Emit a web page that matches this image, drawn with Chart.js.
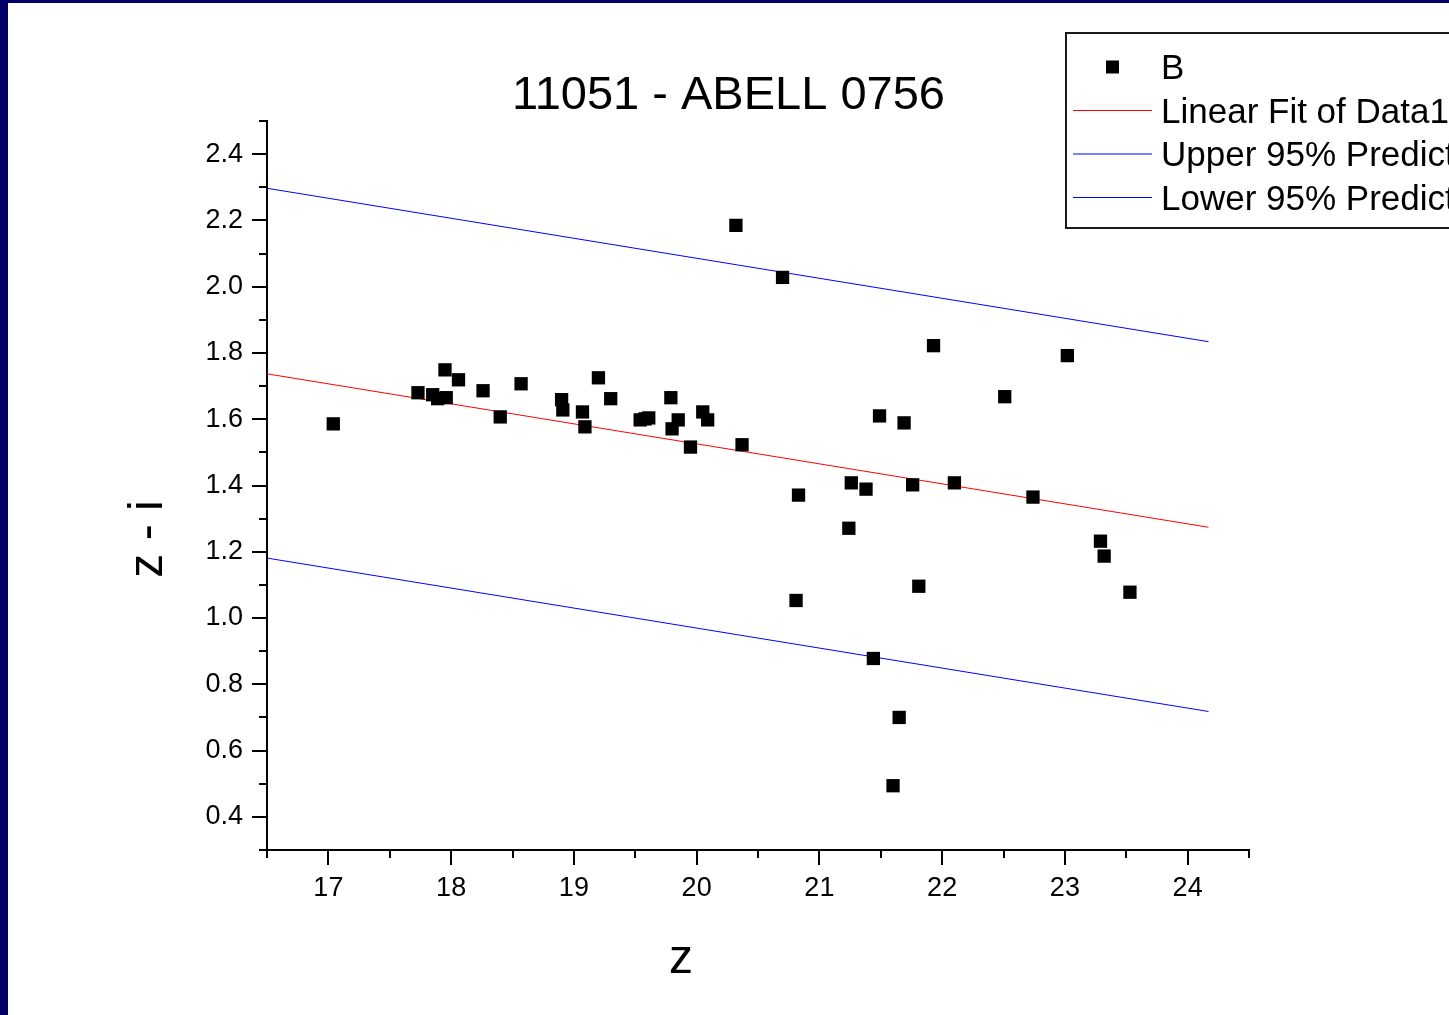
<!DOCTYPE html>
<html>
<head>
<meta charset="utf-8">
<script src="https://cdn.jsdelivr.net/npm/chart.js@4/dist/chart.umd.min.js"></script>
<style>
  body { margin: 0; background: #000068; width: 1449px; height: 1015px; overflow: hidden; }
  #wrap { position: absolute; left: 8px; top: 3px; width: 1441px; height: 1012px; background: #ffffff; }
</style>
</head>
<body>
<div id="wrap"><canvas id="myChart" width="1441" height="1012"></canvas></div>
<script>
/* Data */
    // z magnitude and z - i colour of each galaxy
    const sampleZ = [17.04, 17.73, 17.85, 17.89, 17.95, 17.96, 18.06, 18.26, 18.40, 18.57,
                     18.90, 18.91, 19.07, 19.09, 19.20, 19.30, 19.54, 19.58, 19.61, 19.79,
                     19.80, 19.85, 19.95, 20.05, 20.09, 20.32, 20.37, 20.70, 20.81, 20.83,
                     21.24, 21.26, 21.38, 21.44, 21.49, 21.60, 21.65, 21.69, 21.76, 21.81,
                     21.93, 22.10, 22.51, 22.74, 23.02, 23.29, 23.32, 23.53]
    const sampleZI = [1.586, 1.680, 1.674, 1.662, 1.749, 1.665, 1.719, 1.686, 1.607, 1.707,
                      1.659, 1.628, 1.622, 1.577, 1.725, 1.662, 1.598, 1.601, 1.604, 1.665,
                      1.571, 1.598, 1.516, 1.622, 1.598, 2.185, 1.523, 2.028, 1.053, 1.371,
                      1.271, 1.408, 1.389, 0.878, 1.610, 0.494, 0.700, 1.589, 1.402, 1.096,
                      1.822, 1.408, 1.668, 1.365, 1.792, 1.232, 1.187, 1.078]

    // fit line and 95% prediction band, start and end
    const fitZ = [16.5, 24.17]
    const fitLine = [1.737, 1.274]
    const upperBand = [2.297, 1.834]
    const lowerBand = [1.181, 0.718]

    const seriesNames = ['B', 'Linear Fit of Data1', 'Upper 95% Prediction Limit', 'Lower 95% Prediction Limit']
    const titleText = '11051 - ABELL 0756'
    const xTitle = 'z'
    const yTitle = 'z - i'

const FONT = '"Liberation Sans", Arial, sans-serif'

function toPoints(xs, ys) {
    let pts = []
    for (let i = 0; i < xs.length; i++) {
        pts.push({ x: xs[i], y: ys[i] })
    }
    return pts
}

// Title, axis titles, major/minor tick marks and the boxed legend
const originPlugin = {
    id: 'originLook',
    afterDraw(chart) {
        const ctx = chart.ctx
        const area = chart.chartArea
        const xs = chart.scales.x
        const ys = chart.scales.y

        ctx.save()
        ctx.strokeStyle = '#000000'
        ctx.lineWidth = 2
        ctx.beginPath()
        xs.ticks.forEach(t => {
            let px = Math.round(xs.getPixelForValue(t.value))
            let major = Math.abs(t.value - Math.round(t.value)) < 1e-6
            ctx.moveTo(px, area.bottom)
            ctx.lineTo(px, area.bottom + (major ? 15 : 8))
        })
        ys.ticks.forEach(t => {
            let py = Math.round(ys.getPixelForValue(t.value))
            let major = Math.round(t.value * 10) % 2 === 0
            ctx.moveTo(area.left, py)
            ctx.lineTo(area.left - (major ? 15 : 8), py)
        })
        ctx.stroke()

        // Title
        ctx.fillStyle = '#000000'
        ctx.font = '47px ' + FONT
        ctx.textAlign = 'center'
        ctx.textBaseline = 'alphabetic'
        ctx.fillText(titleText, chart.width / 2, 106)

        // Axis titles
        ctx.font = '48px ' + FONT
        ctx.fillText(xTitle, 673, 970)
        ctx.save()
        ctx.translate(154, 536)
        ctx.rotate(-Math.PI / 2)
        ctx.fillText(yTitle, 0, 0)
        ctx.restore()

        // Legend
        const bx = 1058, by = 30, bh = 195
        ctx.lineWidth = 2
        ctx.strokeStyle = '#1a1a1a'
        ctx.strokeRect(bx, by, 600, bh)
        ctx.font = '35px ' + FONT
        ctx.textAlign = 'left'
        chart.data.datasets.forEach((ds, i) => {
            let cy = 64 + i * 43.5
            if (i === 0) {
                ctx.fillStyle = '#000000'
                ctx.fillRect(1098, cy - 6.5, 13, 13)
            } else {
                ctx.strokeStyle = ds.borderColor
                ctx.lineWidth = 1
                ctx.beginPath()
                ctx.moveTo(1065, cy)
                ctx.lineTo(1144, cy)
                ctx.stroke()
            }
            ctx.fillStyle = '#000000'
            ctx.fillText(ds.label, 1153, cy + 12)
        })
        ctx.restore()
    }
}

function createChart() {
    const ctx = document.getElementById('myChart').getContext('2d')
    const lineStyle = (color) => ({
        type: 'line',
        borderColor: color,
        borderWidth: 1,
        pointRadius: 0,
        fill: false,
        tension: 0
    })

    const myChart = new Chart(ctx, {
        type: 'scatter',
        data: {
            datasets: [
                {
                    label: seriesNames[0],
                    data: toPoints(sampleZ, sampleZI),
                    pointStyle: 'rect',
                    pointRadius: 9.4,
                    backgroundColor: '#000000',
                    borderWidth: 0,
                    order: 0
                },
                Object.assign({ label: seriesNames[1], data: toPoints(fitZ, fitLine), order: 1 }, lineStyle('#ff0000')),
                Object.assign({ label: seriesNames[2], data: toPoints(fitZ, upperBand), order: 1 }, lineStyle('#0000ff')),
                Object.assign({ label: seriesNames[3], data: toPoints(fitZ, lowerBand), order: 1 }, lineStyle('#0000ff'))
            ]
        },
        options: {
            responsive: false,
            animation: false,
            events: [],
            devicePixelRatio: 1,
            layout: { padding: { left: 0, right: 200, top: 118, bottom: 0 } },
            plugins: {
                legend: { display: false },
                title: { display: false },
                tooltip: { enabled: false }
            },
            scales: {
                x: {
                    type: 'linear',
                    min: 16.5,
                    max: 24.5,
                    afterFit: (s) => { s.height = 165 },
                    grid: { display: false, drawTicks: false },
                    border: { display: true, color: '#000000', width: 2 },
                    ticks: {
                        stepSize: 0.5,
                        autoSkip: false,
                        maxRotation: 0,
                        padding: 22,
                        color: '#000000',
                        font: { family: FONT, size: 27 },
                        callback: (v) => Math.abs(v - Math.round(v)) < 1e-6 ? String(Math.round(v)) : ''
                    }
                },
                y: {
                    type: 'linear',
                    min: 0.3,
                    max: 2.5,
                    afterFit: (s) => { s.width = 259 },
                    grid: { display: false, drawTicks: false },
                    border: { display: true, color: '#000000', width: 2 },
                    ticks: {
                        stepSize: 0.1,
                        autoSkip: false,
                        padding: 24,
                        color: '#000000',
                        font: { family: FONT, size: 27 },
                        callback: (v) => {
                            let k = Math.round(v * 10)
                            return (k % 2 === 0 && k >= 4 && k <= 24) ? (k / 10).toFixed(1) : ''
                        }
                    }
                }
            }
        },
        plugins: [originPlugin]
    })
}

createChart()
</script>
</body>
</html>
